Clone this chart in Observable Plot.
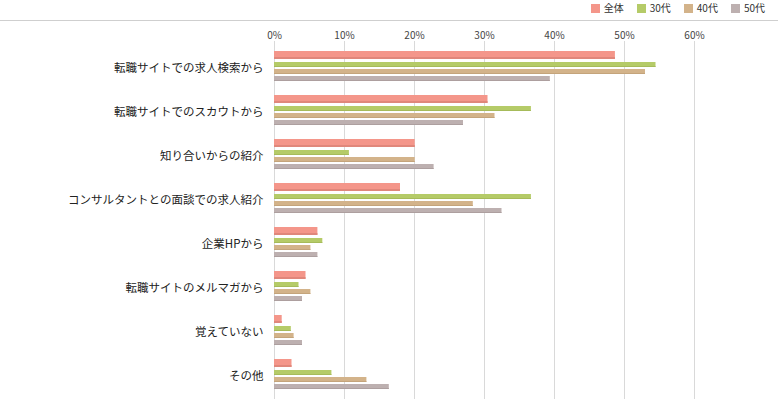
<!DOCTYPE html>
<html>
<head>
<meta charset="utf-8">
<script src="https://cdn.jsdelivr.net/npm/d3@7"></script>
<script src="https://cdn.jsdelivr.net/npm/@observablehq/plot@0.6"></script>
<style>
  html, body { margin: 0; padding: 0; background: #fff; }
  #wrap { position: relative; width: 778px; height: 399px; font-family: "Noto Sans CJK JP", "Noto Sans", sans-serif; }
  #topline { position: absolute; left: 0; top: 20px; width: 778px; height: 0; border-top: 1px solid #cfcfcf; }
  #legend { position: absolute; top: 1px; right: 13px; display: flex; align-items: center; font-size: 10px; line-height: 14px; height: 14px; color: #333; }
  #legend .item { display: flex; align-items: center; margin-left: 13px; }
  #legend .sw { width: 9px; height: 9px; margin-right: 4px; }
  #chart { position: absolute; left: 0; top: 0; }
</style>
</head>
<body>
<div id="wrap">
  <div id="chart"></div>
  <div id="topline"></div>
  <div id="legend"></div>
</div>
<script>
// ---- data ----
const categories = [
  "転職サイトでの求人検索から",
  "転職サイトでのスカウトから",
  "知り合いからの紹介",
  "コンサルタントとの面談での求人紹介",
  "企業HPから",
  "転職サイトのメルマガから",
  "覚えていない",
  "その他"
];
const seriesNames = ["全体", "30代", "40代", "50代"];
const overall = [48.7, 30.5, 20.1, 18.0, 6.2, 4.5, 1.1, 2.5];
const age30   = [54.5, 36.7, 10.7, 36.7, 6.9, 3.5, 2.4, 8.2];
const age40   = [53.0, 31.5, 20.1, 28.4, 5.2, 5.2, 2.8, 13.2];
const age50   = [39.4, 27.0, 22.8, 32.5, 6.2, 4.0, 4.0, 16.4];
const xTicks  = [0, 10, 20, 30, 40, 50, 60];

// ---- styles ----
const fills = ["#f4968a", "#b5cb68", "#d3b38a", "#bdb0b0"];
const edges = ["#e0877b", "#a6bb5a", "#c4a47b", "#ad9f9f"];
// bar placement within a 44px category band: [top inset, height, dark edge height]
const layout = [[7, 8, 2], [18, 5, 1], [25, 5, 1], [32, 5, 1]];
const BAND = 44;

const valuesBySeries = [overall, age30, age40, age50];
const rows = [];
seriesNames.forEach((s, i) => {
  categories.forEach((c, j) => rows.push({ series: s, category: c, value: valuesBySeries[i][j] }));
});

const marks = [
  Plot.gridX(xTicks, { stroke: "#d9d9d9", strokeOpacity: 1, strokeWidth: 1 })
];
seriesNames.forEach((s, i) => {
  const [top, h, e] = layout[i];
  const data = rows.filter(d => d.series === s);
  marks.push(Plot.barX(data, {
    x: "value", y: "category", fill: fills[i],
    insetTop: top, insetBottom: BAND - top - h
  }));
  marks.push(Plot.barX(data, {
    x: "value", y: "category", fill: edges[i],
    insetTop: top + h - e, insetBottom: BAND - top - h
  }));
});
marks.push(Plot.axisX(xTicks, {
  anchor: "top", tickSize: 0, tickPadding: 3, fontSize: 10, fill: "#444",
  tickFormat: d => d + "%", label: null
}));
marks.push(Plot.axisY({
  anchor: "left", tickSize: 0, tickPadding: 11, fontSize: 11.5, fill: "#222",
  dy: 2, label: null
}));

const chart = Plot.plot({
  width: 778,
  height: 399,
  marginTop: 41,
  marginBottom: 0,
  marginLeft: 274,
  marginRight: 84,
  style: { fontFamily: "\"Noto Sans CJK JP\", \"Noto Sans\", sans-serif", background: "transparent" },
  x: { domain: [0, 60], axis: null },
  y: { type: "band", domain: categories, range: [44, 44 + BAND * categories.length], padding: 0, axis: null },
  marks
});
document.getElementById("chart").appendChild(chart);

// legend
const legend = d3.select("#legend");
seriesNames.forEach((s, i) => {
  const it = legend.append("div").attr("class", "item");
  it.append("div").attr("class", "sw").style("background", fills[i]);
  it.append("span").text(s);
});
</script>
</body>
</html>
